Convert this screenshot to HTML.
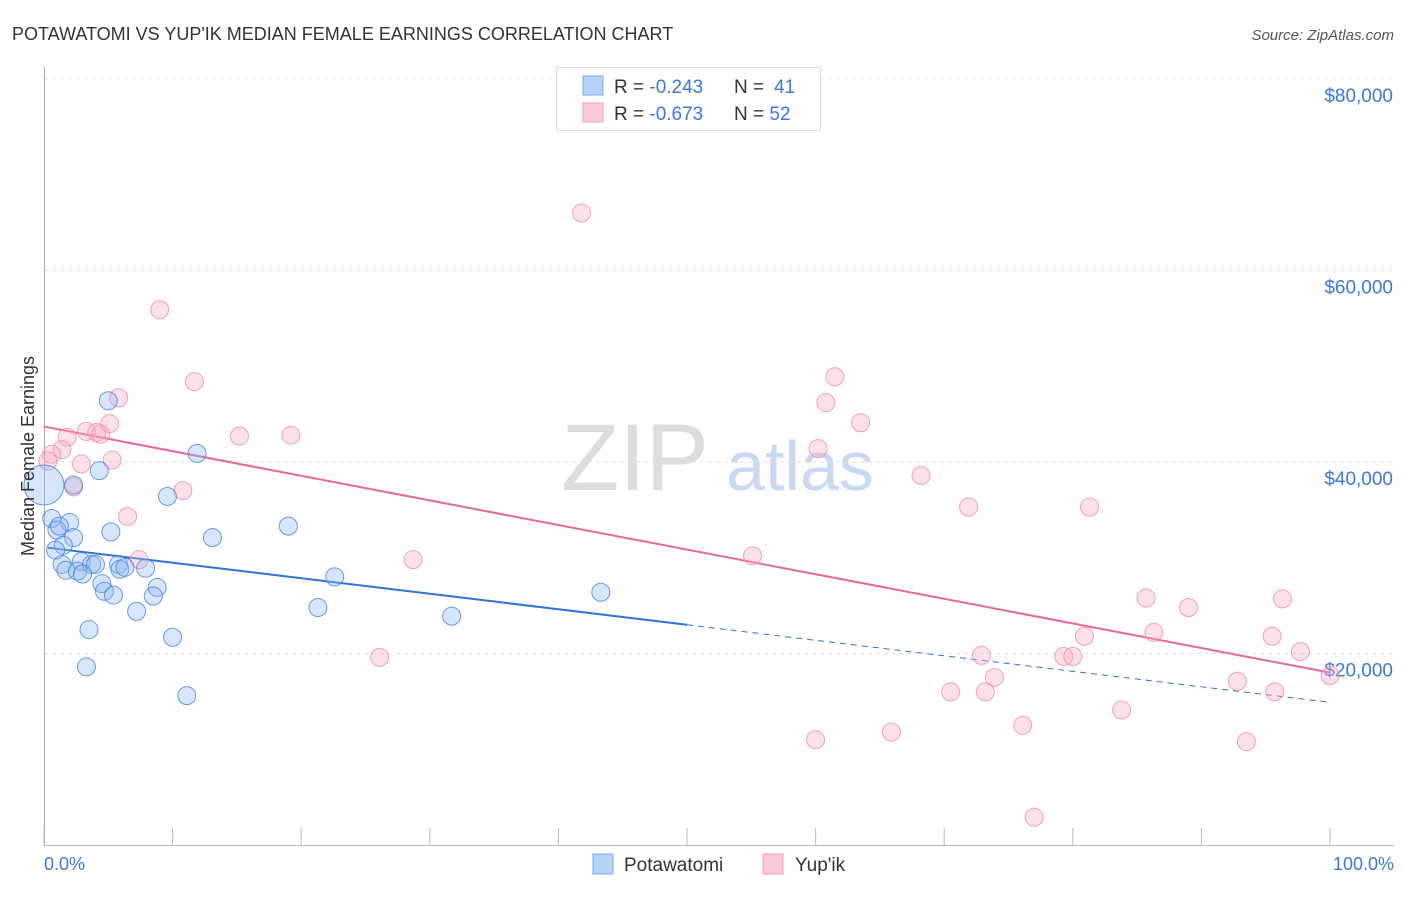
<!DOCTYPE html>
<html><head><meta charset="utf-8"><style>
body{margin:0;background:#fff;font-family:"Liberation Sans",sans-serif;}
svg text{font-family:"Liberation Sans",sans-serif;}
</style></head><body>
<svg id="chart" width="1406" height="892" xmlns="http://www.w3.org/2000/svg">
<text x="12" y="40" font-size="18" fill="#333">POTAWATOMI VS YUP'IK MEDIAN FEMALE EARNINGS CORRELATION CHART</text>
<text x="1394" y="40" font-size="15" fill="#555" font-style="italic" text-anchor="end">Source: ZipAtlas.com</text>
<g><text x="635" y="490" font-size="95" fill="#ddd" font-family="Liberation Serif" text-anchor="middle">ZIP</text><text x="800" y="490" font-size="70" fill="#c9d9ef" text-anchor="middle">atlas</text></g>
<g id="grid"></g><g id="axes"></g><g id="trends"></g><g id="points"></g>
<text transform="translate(34,456) rotate(-90)" font-size="18" fill="#333" text-anchor="middle">Median Female Earnings</text>
<text x="44" y="870" font-size="18" fill="#3b78d8">0.0%</text>
<text x="1394" y="870" font-size="18" fill="#3b78d8" text-anchor="end">100.0%</text>
<g>
<rect x="556.5" y="67.5" width="264" height="63" fill="#fff" stroke="#ddd"/>
<rect x="583" y="76" width="20" height="19" fill="#b8d2f5" stroke="#7aa8e6"/>
<rect x="583" y="103" width="20" height="19" fill="#fbc9d8" stroke="#f0a0b8"/>
<text x="614" y="93" font-size="19" fill="#333">R = <tspan fill="#3b78d8">-0.243</tspan><tspan x="734">N = </tspan><tspan fill="#3b78d8" x="774">41</tspan></text>
<text x="614" y="120" font-size="19" fill="#333">R = <tspan fill="#3b78d8">-0.673</tspan><tspan x="734">N = </tspan><tspan fill="#3b78d8">52</tspan></text>
</g>
<g>
<rect x="593" y="854" width="20" height="20" fill="#b8d2f5" stroke="#7aa8e6"/>
<text x="624" y="871" font-size="19" fill="#333">Potawatomi</text>
<rect x="763" y="854" width="20" height="20" fill="#fbc9d8" stroke="#f0a0b8"/>
<text x="795" y="871" font-size="19" fill="#333">Yup'ik</text>
</g>
</svg>
<script>
const yTicks=[20,40,60,80];
const yTickLabels=["$20,000","$40,000","$60,000","$80,000"];
const xTicks=[0,10,20,30,40,50,60,70,80,90,100];
const blueX=[0,5.0,11.9,4.3,2.3,9.6,0.6,2.0,1.0,5.2,2.3,13.1,19.0,1.5,0.9,1.4,2.9,3.7,4.0,5.8,5.9,7.9,1.7,2.6,3.0,22.6,4.5,4.7,5.4,8.8,8.5,43.3,7.2,21.3,31.7,3.5,10.0,3.3,11.1,1.2,6.3];
const blueY=[37.6,46.4,40.9,39.1,37.6,36.4,34.1,33.7,32.9,32.7,32.1,32.1,33.3,31.3,30.8,29.3,29.6,29.3,29.3,29.3,28.8,28.9,28.7,28.6,28.3,28.0,27.3,26.5,26.1,26.9,26.0,26.4,24.4,24.8,23.9,22.5,21.7,18.6,15.6,33.3,29.0];
const pinkX=[41.8,9.0,11.7,61.5,60.8,5.8,63.5,5.1,1.8,3.3,4.1,4.4,15.2,19.2,1.4,0.6,0.3,60.2,5.3,2.9,68.2,2.3,10.8,71.9,81.3,6.5,55.1,28.7,7.4,85.7,96.3,89.0,80.9,86.3,95.5,97.7,72.9,79.3,80.0,26.1,100,73.9,92.8,70.5,73.2,95.7,83.8,76.1,65.9,60.0,93.5,77.0];
const pinkY=[66.0,55.9,48.4,48.9,46.2,46.7,44.1,44.0,42.6,43.2,43.1,42.9,42.7,42.8,41.3,40.8,40.1,41.4,40.2,39.8,38.6,37.4,37.0,35.3,35.3,34.3,30.2,29.8,29.8,25.8,25.7,24.8,21.8,22.2,21.8,20.2,19.8,19.7,19.7,19.6,17.7,17.5,17.1,16.0,16.0,16.0,14.1,12.5,11.8,11.0,10.8,2.9];
const blueTrend=[31.1,14.9];
const pinkTrend=[43.7,18.0];
const blueSolidEnd=50;

const NS="http://www.w3.org/2000/svg";
const X=v=>44+v*12.86;
const Y=v=>845-v*9.575;
function mk(tag,attrs,parent){const e=document.createElementNS(NS,tag);for(const k in attrs)e.setAttribute(k,attrs[k]);document.getElementById(parent).appendChild(e);return e;}
yTicks.forEach((t,i)=>{
 const g=mk('line',{x1:44,x2:1394,y1:Y(t),y2:Y(t),stroke:'#e2e2e2','stroke-dasharray':'4,4'},'grid');
 
 
 const l=mk('text',{x:1393,y:Y(t)+23,'font-size':19,fill:'#3b78d8','text-anchor':'end'},'grid');
 l.textContent=yTickLabels[i];
 
 
});
const ya=mk('line',{x1:44.5,x2:44.5,y1:67,y2:845,stroke:'#aaa'},'axes');


const xa=mk('line',{x1:44,x2:1394,y1:845.5,y2:845.5,stroke:'#bbb'},'axes');


xTicks.forEach(t=>{
 const k=mk('line',{x1:X(t),x2:X(t),y1:828,y2:845,stroke:'#bbb'},'axes');
 
 
});
function tv(tr,x){return tr[0]+(tr[1]-tr[0])*x/100;}
const bt1=mk('line',{x1:X(0.3),y1:Y(tv(blueTrend,0.3)),x2:X(blueSolidEnd),y2:Y(tv(blueTrend,blueSolidEnd)),stroke:'#2f72d8','stroke-width':2},'trends');


const bt2=mk('line',{x1:X(blueSolidEnd),y1:Y(tv(blueTrend,blueSolidEnd)),x2:X(100),y2:Y(tv(blueTrend,100)),stroke:'#2f72d8','stroke-width':1,'stroke-dasharray':'6,5'},'trends');


const pt=mk('line',{x1:X(0),y1:Y(tv(pinkTrend,0)),x2:X(100),y2:Y(tv(pinkTrend,100)),stroke:'#e8689a','stroke-width':2},'trends');


pinkX.forEach((x,i)=>{
 const c=mk('circle',{cx:X(x),cy:Y(pinkY[i]),r:9,fill:'rgba(246,170,196,0.35)',stroke:'rgba(236,140,172,0.8)','stroke-width':1},'points');
 
 
});
blueX.forEach((x,i)=>{
 const c=mk('circle',{cx:X(x),cy:Y(blueY[i]),r:i===0?20:9,fill:'rgba(140,182,240,0.35)',stroke:'rgba(70,130,220,0.8)','stroke-width':1},'points');
 
 
});
</script>
</body></html>
